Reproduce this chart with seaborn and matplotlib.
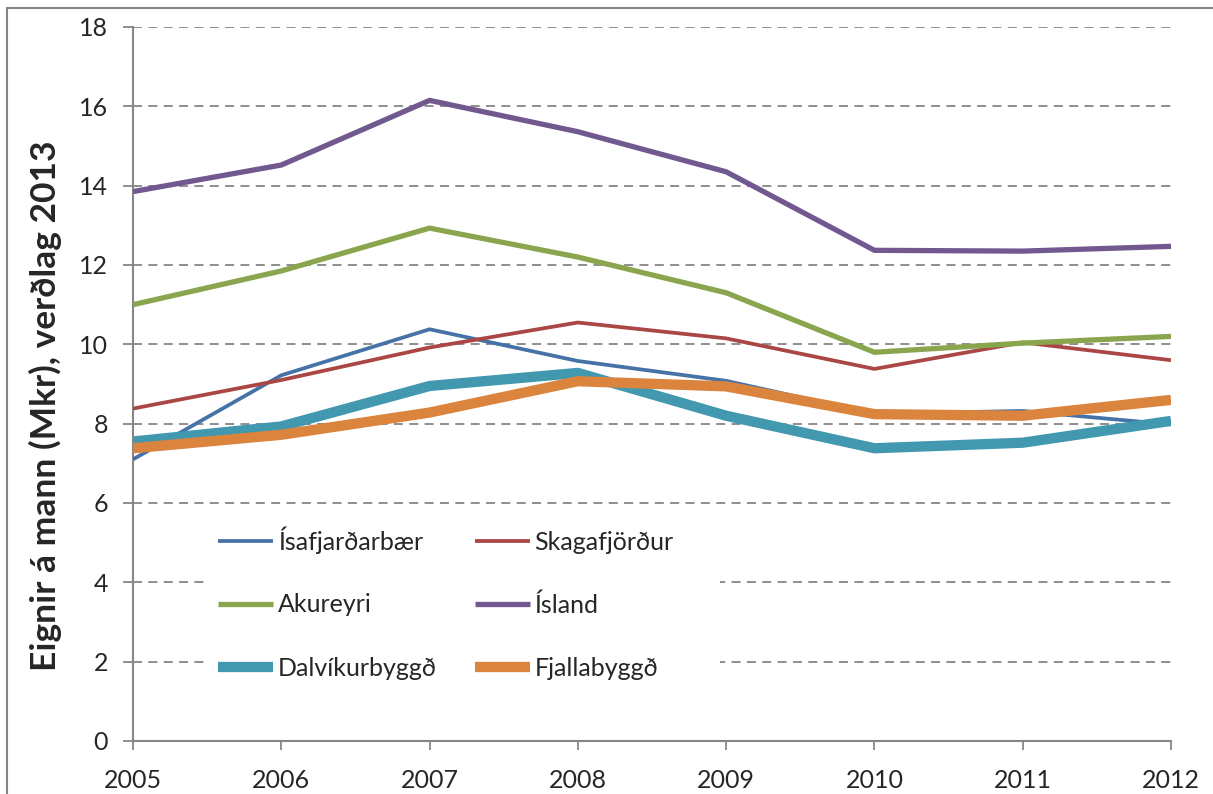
import pandas as pd
import seaborn as sns
import matplotlib.pyplot as plt
from matplotlib.lines import Line2D
from matplotlib.patches import Rectangle

# gögn lesin af myndinni
years = [2005, 2006, 2007, 2008, 2009, 2010, 2011, 2012]
isafjardarbaer = [7.1, 9.22, 10.38, 9.58, 9.08, 8.25, 8.32, 7.98]
skagafjordur = [8.38, 9.1, 9.92, 10.55, 10.15, 9.38, 10.05, 9.6]
akureyri = [11.0, 11.85, 12.93, 12.2, 11.3, 9.8, 10.03, 10.2]
island = [13.85, 14.52, 16.15, 15.36, 14.35, 12.37, 12.35, 12.47]
dalvikurbyggd = [7.55, 7.93, 8.95, 9.28, 8.2, 7.38, 7.52, 8.07]
fjallabyggd = [7.38, 7.72, 8.28, 9.07, 8.94, 8.24, 8.2, 8.6]

names = ["Ísafjarðarbær", "Skagafjörður", "Akureyri", "Ísland", "Dalvíkurbyggð", "Fjallabyggð"]
series = [isafjardarbaer, skagafjordur, akureyri, island, dalvikurbyggd, fjallabyggd]
colors = ["#4572A7", "#AA4643", "#89A54E", "#71588F", "#4198AF", "#DB843D"]
widths = [2.7, 2.7, 3.8, 3.8, 7.4, 7.4]

df = pd.DataFrame({"year": years})
for n, s in zip(names, series):
    df[n] = s

sns.set_style("white")
plt.rcParams["font.family"] = ["Lato", "DejaVu Sans"]

fig = plt.figure(figsize=(12.13, 7.94), dpi=100)
ax = fig.add_axes([133 / 1213, 1 - 741 / 794, (1171 - 133) / 1213, (741 - 27) / 794])

grey = "#868686"
for n, c, w in zip(names, colors, widths):
    sns.lineplot(data=df, x="year", y=n, color=c, linewidth=w, label=n, ax=ax,
                 solid_capstyle="butt", zorder=3)

ax.set_xlim(2005, 2012)
ax.set_ylim(0, 18)
ax.set_xticks(years)
ax.set_yticks(range(0, 19, 2))
ax.yaxis.grid(True, color=grey, linestyle=(0, (5, 3.5)), linewidth=1.3)
ax.set_axisbelow(True)
for side in ["top", "right"]:
    ax.spines[side].set_visible(False)
for side in ["left", "bottom"]:
    ax.spines[side].set_color(grey)
    ax.spines[side].set_linewidth(1.5)
ax.tick_params(axis="y", direction="out", length=7, width=1.3, color=grey, pad=11, labelsize=18)
ax.tick_params(axis="x", direction="out", length=6.5, width=1.3, color=grey, pad=14, labelsize=18)
ax.tick_params(left=True, bottom=True)

ax.set_xlabel("")
ax.set_ylabel("Eignir á mann (Mkr), verðlag 2013", fontsize=25.5, fontweight="bold")
ax.yaxis.set_label_coords(-0.068, 0.47)

# hvítur bakgrunnur skýringa
ax.add_patch(Rectangle((72 / 1038, 41 / 714), 515 / 1038, 190 / 714, transform=ax.transAxes,
                       facecolor="white", edgecolor="none", zorder=1))

handles, labels = ax.get_legend_handles_labels()
order = [0, 2, 4, 1, 3, 5]
ax.legend([handles[i] for i in order], [labels[i] for i in order], ncol=2,
          loc="upper left", bbox_to_anchor=((218 - 133) / 1038, (741 - 526) / 714),
          frameon=False, fontsize=18, handlelength=2.2, handletextpad=0.2,
          columnspacing=1.5, labelspacing=1.6, borderpad=0, borderaxespad=0)

# rammi utan um myndina
fig.add_artist(Line2D([7 / 1213, 7 / 1213], [0, 1 - 8 / 794], color=grey, lw=1.5))
fig.add_artist(Line2D([7 / 1213, 1], [1 - 8 / 794, 1 - 8 / 794], color=grey, lw=1.5))

fig.savefig("out.png", dpi=100)
